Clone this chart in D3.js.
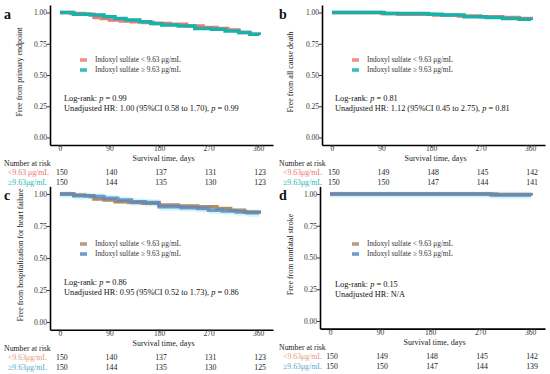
<html>
<head>
<style>
  body { margin: 0; background: #fff; }
  svg text { font-family: "Liberation Serif", "DejaVu Serif", serif; }
</style>
</head>
<body>
<svg id="chart" width="550" height="374"></svg>
<script src="https://cdnjs.cloudflare.com/ajax/libs/d3/7.8.5/d3.min.js"></script>
<script>
// ---- data ----
var dayTicks = [0, 90, 180, 270, 360];
var survTicks = [0, 0.25, 0.5, 0.75, 1];

var riskA_low = [150, 140, 137, 131, 123];
var riskA_high = [150, 144, 135, 130, 123];
var riskB_low = [150, 149, 148, 145, 142];
var riskB_high = [150, 150, 147, 144, 141];
var riskC_low = [150, 140, 137, 131, 123];
var riskC_high = [150, 144, 135, 130, 125];
var riskD_low = [150, 149, 148, 145, 142];
var riskD_high = [150, 150, 147, 144, 139];

// step curves: [day, survival]
var survA_low = [[0,1],[20,0.993],[45,0.987],[62,0.96],[75,0.953],[90,0.94],[110,0.933],[130,0.927],[150,0.92],[170,0.913],[200,0.907],[230,0.893],[260,0.88],[285,0.873],[305,0.86],[325,0.84],[345,0.827],[362,0.82]];
var survA_high = [[0,1],[25,0.987],[55,0.98],[80,0.967],[100,0.953],[120,0.94],[145,0.927],[165,0.913],[185,0.9],[215,0.893],[245,0.873],[275,0.867],[300,0.853],[325,0.84],[345,0.827],[362,0.82]];
var survB_low = [[0,1],[90,0.993],[120,0.987],[185,0.98],[230,0.973],[270,0.967],[310,0.96],[340,0.953],[362,0.947]];
var survB_high = [[0,1],[95,0.993],[175,0.987],[200,0.98],[240,0.967],[280,0.96],[310,0.953],[340,0.947],[362,0.94]];
var survC_low = [[0,1],[25,0.993],[45,0.987],[62,0.96],[80,0.953],[100,0.94],[125,0.933],[150,0.927],[180,0.913],[215,0.907],[250,0.9],[285,0.887],[310,0.873],[335,0.86],[362,0.85]];
var survC_high = [[0,1],[25,0.987],[55,0.98],[80,0.967],[105,0.953],[130,0.94],[155,0.933],[180,0.9],[220,0.893],[250,0.887],[270,0.873],[295,0.867],[320,0.86],[340,0.853],[362,0.845]];
var survD_low = [[0,1],[300,0.997],[362,0.993]];
var survD_high = [[0,1],[290,0.993],[362,0.987]];

var panels = [
  { letter: "a", ylab: "Free from primary endpoint", low: survA_low, high: survA_high, rLow: riskA_low, rHigh: riskA_high,
    logrank: "0.99", hr: "1.00 (95%CI 0.58 to 1.70), ", hrp: "0.99", lowLab: "<9.63 \u03bcg/mL",
    cLow: "#f07a72", cHigh: "#17b3aa", tLow: "#f07070", tHigh: "#2ab5b5", band: false,
    xr: [50, 273], yr: [145, 5], ox: 0, lx: 64, ly: 101, gx: 80, gy: 60, labX: 22 },
  { letter: "b", ylab: "Free from all cause death", low: survB_low, high: survB_high, rLow: riskB_low, rHigh: riskB_high,
    logrank: "0.81", hr: "1.12 (95%CI 0.45 to 2.75), ", hrp: "0.81", lowLab: "<9.63\u03bcg/mL",
    cLow: "#f07a72", cHigh: "#17b3aa", tLow: "#f07070", tHigh: "#2ab5b5", band: false,
    xr: [322, 545], yr: [145, 5], ox: 275, lx: 335, ly: 101, gx: 352, gy: 60, labX: 293 },
  { letter: "c", ylab: "Free from hospitalization for heart failure", low: survC_low, high: survC_high, rLow: riskC_low, rHigh: riskC_high,
    logrank: "0.86", hr: "0.95 (95%CI 0.52 to 1.73),  ", hrp: "0.86", lowLab: "<9.63\u03bcg/mL",
    cLow: "#b08c64", cHigh: "#5b88c0", tLow: "#e49a78", tHigh: "#5aa8cc", band: true,
    xr: [50, 273], yr: [329.7, 186.3], ox: 0, lx: 64, ly: 285, gx: 80, gy: 244, labX: 23 },
  { letter: "d", ylab: "Free from nonfatal stroke", low: survD_low, high: survD_high, rLow: riskD_low, rHigh: riskD_high,
    logrank: "0.15", hr: null, hrp: null, lowLab: "<9.63\u03bcg/mL",
    cLow: "#b08c64", cHigh: "#5b88c0", tLow: "#e49a78", tHigh: "#5aa8cc", band: true,
    xr: [320, 545], yr: [328.6, 186.4], ox: 275, lx: 335, ly: 287, gx: 352, gy: 244, labX: 293 }
];

var svg = d3.select("#chart");

panels.forEach(function(p) {
  var x = d3.scaleLinear().domain([-18, 387]).range(p.xr);
  var y = d3.scaleLinear().domain([-0.06, 1.06]).range(p.yr);
  var g = svg.append("g");
  var axisY = p.yr[0];

  // light band around the curves
  if (p.band) {
    var area = d3.area().curve(d3.curveStepAfter)
      .x(d => x(d[0])).y0(d => y(Math.max(d[1] - 0.03, 0))).y1(d => y(Math.min(d[1] + 0.025, 1.02)));
    g.append("path").datum(p.high).attr("d", area).attr("fill", "#c8f4f6").attr("opacity", 0.8);
  }

  var line = d3.line().curve(d3.curveStepAfter).x(d => x(d[0])).y(d => y(d[1]));
  g.append("path").datum(p.low).attr("d", line).attr("fill", "none")
    .attr("stroke", p.cLow).attr("stroke-width", 3.5);
  g.append("path").datum(p.high).attr("d", line).attr("fill", "none")
    .attr("stroke", p.cHigh).attr("stroke-width", 3.5).attr("opacity", p.band ? 0.85 : 1);

  // axes
  var ya = g.append("g").attr("transform", "translate(" + p.xr[0] + ",0)")
    .call(d3.axisLeft(y).tickValues(survTicks).tickFormat(d3.format(".2f")).tickSize(3).tickSizeOuter(0));
  var xa = g.append("g").attr("transform", "translate(0," + axisY + ")")
    .call(d3.axisBottom(x).tickValues(dayTicks).tickSize(2).tickSizeOuter(0));
  [ya, xa].forEach(function(a) {
    a.select(".domain").attr("stroke", "#000").attr("stroke-width", 1.6);
    a.selectAll(".tick line").attr("stroke", "#333");
    a.selectAll("text").attr("font-family", "Liberation Serif").attr("font-size", 7.5).attr("fill", "#333");
  });
  ya.selectAll("text").attr("x", -3);
  xa.selectAll("text").attr("y", 1);

  g.append("text").attr("x", (p.xr[0] + p.xr[1]) / 2 + 2).attr("y", axisY + 16.3)
    .attr("text-anchor", "middle").attr("font-size", 8).attr("fill", "#222").text("Survival time, days");

  g.append("text").attr("transform", "translate(" + p.labX + "," + ((p.yr[0] + p.yr[1]) / 2 - 3) + ") rotate(-90)")
    .attr("text-anchor", "middle").attr("font-size", 8).attr("fill", "#222").text(p.ylab);

  g.append("text").attr("x", p.ox + 4).attr("y", p.yr[1] + 14).attr("font-size", 14)
    .attr("font-weight", "bold").attr("fill", "#111").text(p.letter);

  // legend
  var leg = [["Indoxyl sulfate < 9.63 \u03bcg/mL", p.cLow], ["Indoxyl sulfate \u2265 9.63 \u03bcg/mL", p.cHigh]];
  leg.forEach(function(l, i) {
    g.append("rect").attr("x", p.gx).attr("y", p.gy + i * 10 - 1.8).attr("width", 7).attr("height", 3.6)
      .attr("fill", l[1]).attr("opacity", 0.85);
    g.append("text").attr("x", p.gx + 15).attr("y", p.gy + i * 10 + 2.4).attr("font-size", 7.3)
      .attr("fill", "#333").text(l[0]);
  });

  // stats text
  var t1 = g.append("text").attr("x", p.lx).attr("y", p.ly).attr("font-size", 8.3).attr("fill", "#111");
  t1.append("tspan").text("Log-rank: ");
  t1.append("tspan").attr("font-style", "italic").text("p");
  t1.append("tspan").text(" = " + p.logrank);
  var t2 = g.append("text").attr("x", p.lx).attr("y", p.ly + 10).attr("font-size", 8.3).attr("fill", "#111");
  if (p.hr) {
    t2.append("tspan").text("Unadjusted HR: " + p.hr);
    t2.append("tspan").attr("font-style", "italic").text("p");
    t2.append("tspan").text(" = " + p.hrp);
  } else {
    t2.text("Unadjusted HR:  N/A");
  }

  // number at risk table
  g.append("text").attr("x", p.ox + 4).attr("y", axisY + 21).attr("font-size", 7.8).attr("fill", "#222").text("Number at risk");
  g.append("text").attr("x", p.ox + 8).attr("y", axisY + 30).attr("font-size", 7.8).attr("fill", p.tLow).text(p.lowLab);
  g.append("text").attr("x", p.ox + 8).attr("y", axisY + 40.3).attr("font-size", 7.8).attr("fill", p.tHigh).text("\u22659.63\u03bcg/mL");
  [p.rLow, p.rHigh].forEach(function(r, i) {
    g.selectAll(null).data(r).enter().append("text")
      .attr("x", (d, k) => x(dayTicks[k]) + 2).attr("y", axisY + 30 + i * 10.3)
      .attr("text-anchor", "middle").attr("font-size", 7.8).attr("fill", "#222").text(d => d);
  });
});
</script>
</body>
</html>
